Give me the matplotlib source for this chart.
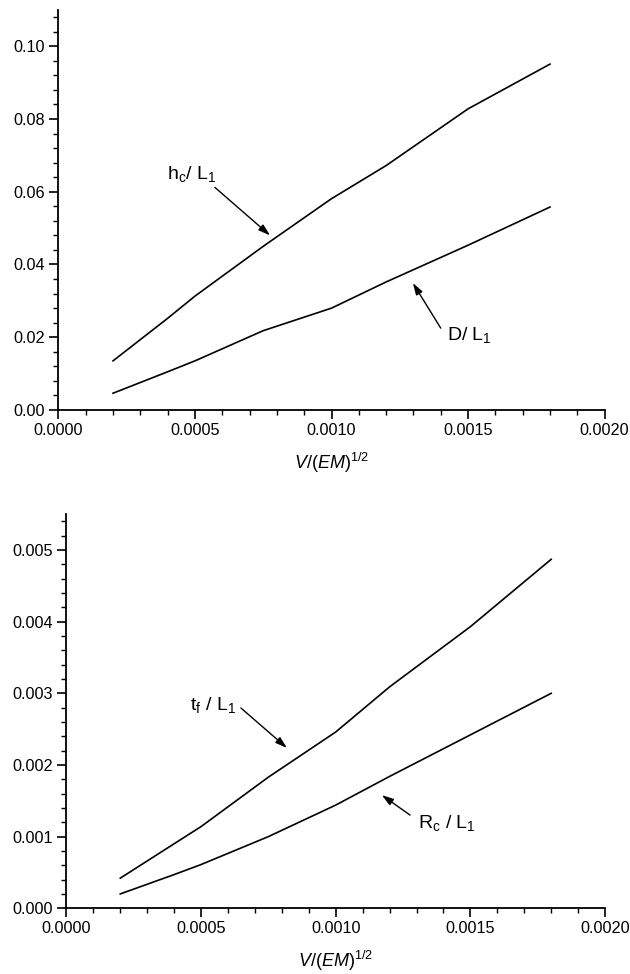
import matplotlib
matplotlib.use("Agg")
import matplotlib.pyplot as plt
from matplotlib.ticker import MultipleLocator, FormatStrFormatter

plt.rcParams['font.family'] = ['Liberation Sans', 'DejaVu Sans']
plt.rcParams['mathtext.fontset'] = 'custom'
plt.rcParams['mathtext.rm'] = 'Liberation Sans'
plt.rcParams['mathtext.it'] = 'Liberation Sans:italic'
plt.rcParams['mathtext.bf'] = 'Liberation Sans:bold'

# ---- data ----
x_vals = [0.0002, 0.0004, 0.0005, 0.00075, 0.0010, 0.0012, 0.0015, 0.0018]

hc_L1 = [0.0135, 0.0252, 0.0313, 0.0450, 0.0581, 0.0672, 0.0828, 0.0951]
D_L1 = [0.0046, 0.0105, 0.0135, 0.0218, 0.0280, 0.0352, 0.0453, 0.0558]

tf_L1 = [0.00042, 0.00090, 0.00114, 0.00183, 0.00246, 0.00309, 0.00393, 0.00487]
Rc_L1 = [0.00020, 0.00047, 0.00061, 0.00100, 0.00144, 0.00184, 0.00242, 0.00300]

xlabel = r'$\mathit{V/(EM)}^{\mathit{1/2}}$'

fig = plt.figure(figsize=(6.3, 9.74), dpi=100)

def style_axes(ax, ymax, ymajor, yminor, yfmt):
    ax.set_xlim(0, 0.002)
    ax.set_ylim(0, ymax)
    for s in ['top', 'right']:
        ax.spines[s].set_visible(False)
    for s in ['left', 'bottom']:
        ax.spines[s].set_linewidth(1.3)
    ax.xaxis.set_major_locator(MultipleLocator(0.0005))
    ax.xaxis.set_minor_locator(MultipleLocator(0.0001))
    ax.xaxis.set_major_formatter(FormatStrFormatter('%.4f'))
    ax.yaxis.set_major_locator(MultipleLocator(ymajor))
    ax.yaxis.set_minor_locator(MultipleLocator(yminor))
    ax.yaxis.set_major_formatter(FormatStrFormatter(yfmt))
    ax.tick_params(which='major', direction='out', length=6.5, width=1.2,
                   labelsize=11.7, pad=3)
    ax.tick_params(which='minor', direction='out', length=3.5, width=1.0)
    ax.set_xlabel(xlabel, fontsize=13, labelpad=9)

arrow = dict(arrowstyle='-|>,head_length=0.7,head_width=0.22', color='k',
             lw=1.0, shrinkA=0, shrinkB=0)

# ---- top panel ----
ax1 = fig.add_axes([0.0927, 0.5791, 0.867, 0.4107])
ax1.plot(x_vals, hc_L1, color='k', lw=1.2)
ax1.plot(x_vals, D_L1, color='k', lw=1.2)
style_axes(ax1, 0.11, 0.02, 0.004, '%.2f')
ax1.annotate('', xy=(0.000775, 0.0480), xytext=(0.000573, 0.0612), arrowprops=arrow)
ax1.text(0.000489, 0.0650, r'h$_\mathregular{c}$/ L$_\mathregular{1}$', fontsize=14,
         ha='center', va='center')
ax1.annotate('', xy=(0.001298, 0.0349), xytext=(0.001400, 0.0225), arrowprops=arrow)
ax1.text(0.001504, 0.0205, r'D/ L$_\mathregular{1}$', fontsize=14,
         ha='center', va='center')

# ---- bottom panel ----
ax2 = fig.add_axes([0.1054, 0.0675, 0.855, 0.4046])
ax2.plot(x_vals, tf_L1, color='k', lw=1.2)
ax2.plot(x_vals, Rc_L1, color='k', lw=1.2)
style_axes(ax2, 0.0055, 0.001, 0.0002, '%.3f')
ax2.annotate('', xy=(0.000819, 0.002237), xytext=(0.000648, 0.002795), arrowprops=arrow)
ax2.text(0.000545, 0.00284, r't$_\mathregular{f}$ / L$_\mathregular{1}$', fontsize=14,
         ha='center', va='center')
ax2.annotate('', xy=(0.001171, 0.00158), xytext=(0.001276, 0.00130), arrowprops=arrow)
ax2.text(0.001413, 0.00119, r'R$_\mathregular{c}$ / L$_\mathregular{1}$', fontsize=14,
         ha='center', va='center')

fig.savefig('out.png', dpi=100)
